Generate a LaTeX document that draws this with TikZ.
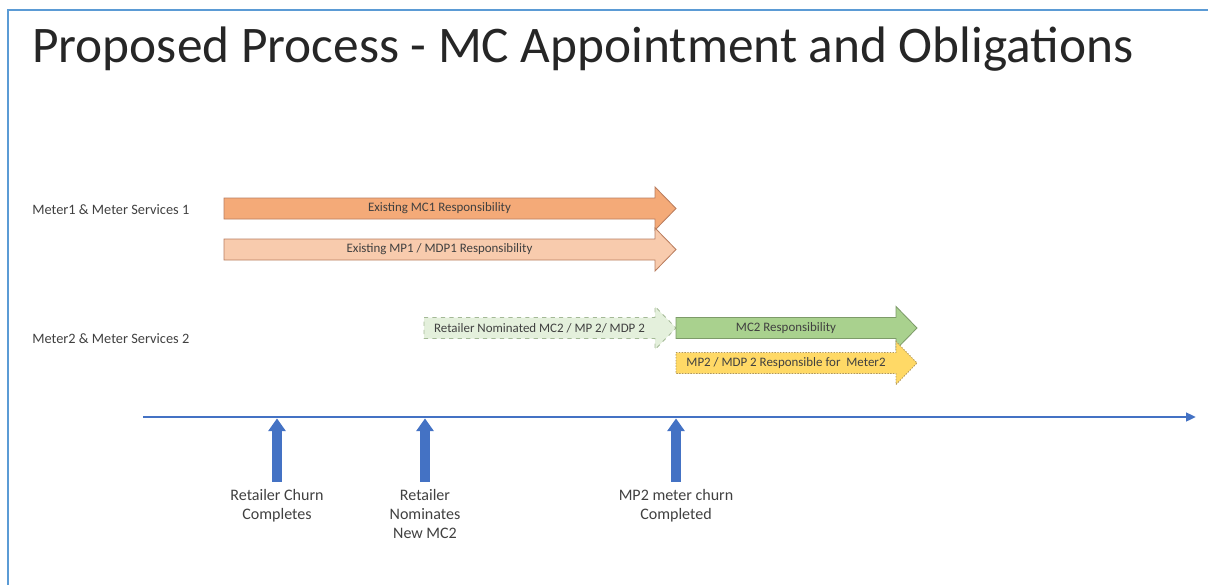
\documentclass[tikz,border=0pt]{standalone}
\usepackage{fontspec}
\setmainfont{Carlito}
\usetikzlibrary{arrows.meta}
\definecolor{framecolor}{RGB}{91,155,213}
\definecolor{axiscolor}{RGB}{68,114,196}
\definecolor{mconefill}{RGB}{244,170,120}
\definecolor{mponefill}{RGB}{248,203,173}
\definecolor{orangeedge}{RGB}{185,125,95}
\definecolor{nomfill}{RGB}{228,240,220}
\definecolor{mctwofill}{RGB}{169,209,142}
\definecolor{greenedge}{RGB}{125,155,105}
\definecolor{mptwofill}{RGB}{255,217,102}
\definecolor{yellowedge}{RGB}{175,150,90}
\definecolor{lbltext}{RGB}{64,64,64}
\tikzset{
  frameline/.style={draw=framecolor, line width=1.5pt},
  rowlbl/.style={font=\fontsize{10.2}{12}\selectfont, text=lbltext, anchor=west, inner sep=0pt},
  bartext/.style={font=\fontsize{9.2}{11}\selectfont, text=lbltext, inner sep=0pt},
  evlbl/.style={font=\fontsize{11.4}{13.5}\selectfont, text=lbltext, align=center, anchor=north, inner sep=0pt},
  axis/.style={draw=axiscolor, line width=2pt, -{Triangle[length=7pt, width=6pt]}},
  evarrow/.style={draw=axiscolor, line width=6.5pt, -{Triangle[length=9pt, width=12pt]}},
}
% one responsibility bar: style, x start, x end of body, y middle, name, text
\newcommand{\respbar}[6]{%
  \draw[#1] (#2,#4-10.5) -- (#3,#4-10.5) -- (#3,#4-21.5) -- (#3+21,#4)
    -- (#3,#4+21.5) -- (#3,#4+10.5) -- (#2,#4+10.5) -- cycle;
  \node[bartext] (#5) at ({(#2+#3)/2},#4) {#6};}

\begin{document}
\begin{tikzpicture}[x=0.025cm, y=-0.025cm]
\useasboundingbox (0,0) rectangle (1208,585);
\draw[frameline] (1208,10) -- (8,10) -- (8,585);
\node[font=\fontsize{36.5}{44}\selectfont, text=black!85, anchor=base west, inner sep=0pt] (title) at (32,62) {Proposed Process - MC Appointment and Obligations};

% meter 1
\node[rowlbl] (row1) at (32,210) {Meter1 \& Meter Services 1};
\respbar{fill=mconefill, draw=orangeedge, line width=0.6pt}{224}{655}{208.5}{mcone}{Existing MC1 Responsibility}
\respbar{fill=mponefill, draw=orangeedge, line width=0.6pt}{224}{655}{249.5}{mpone}{Existing MP1 / MDP1 Responsibility}

% meter 2
\node[rowlbl] (row2) at (32,339) {Meter2 \& Meter Services 2};
\respbar{fill=nomfill, draw=greenedge!70, dashed, line width=0.6pt}{424}{655}{328}{nom}{Retailer Nominated MC2 / MP 2/ MDP 2}
\respbar{fill=mctwofill, draw=greenedge, line width=0.6pt}{676}{896}{328}{mctwo}{MC2 Responsibility}
\respbar{fill=mptwofill, draw=yellowedge, dashed, dash pattern=on 1pt off 1pt, line width=0.6pt}{676}{896}{363}{mptwo}{MP2 / MDP 2 Responsible for\ \ Meter2}

% time line
\coordinate (axstart) at (143,417);
\coordinate (axend) at (1196,417);
\draw[axis] (axstart) -- (axend);

\node[evlbl] (ev1) at (277,489) {Retailer Churn\\Completes};
\node[evlbl] (ev2) at (425,489) {Retailer\\Nominates\\New MC2};
\node[evlbl] (ev3) at (676,489) {MP2 meter churn\\Completed};
\foreach \ev in {ev1,ev2,ev3}
  \draw[evarrow] ([yshift=5pt]\ev.north) -- ([yshift=-1pt]\ev.north |- axstart);
\end{tikzpicture}
\end{document}
